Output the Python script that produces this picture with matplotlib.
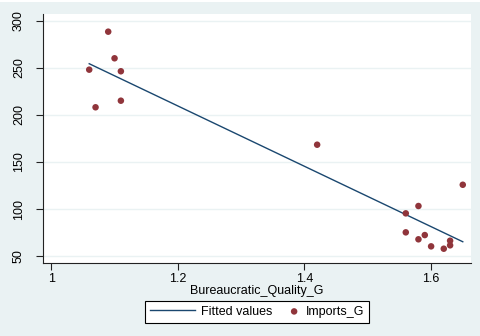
import numpy as np
import matplotlib
matplotlib.use("Agg")
import matplotlib.pyplot as plt
from matplotlib.patches import Rectangle
from matplotlib.legend_handler import HandlerLine2D

plt.rcParams['font.family'] = ['Liberation Sans', 'DejaVu Sans']

quality = [1.06, 1.09, 1.10, 1.11, 1.07, 1.11, 1.42, 1.65, 1.58, 1.56,
           1.56, 1.58, 1.59, 1.60, 1.62, 1.63, 1.63]
imports = [248.2, 288.6, 260.3, 246.5, 208.2, 215.2, 168.4, 125.8, 103.2, 95.4,
           75.2, 67.8, 72.3, 60.3, 57.8, 66.3, 61.4]

x_ticks = [1, 1.2, 1.4, 1.6]
x_tick_labels = ["1", "1.2", "1.4", "1.6"]
y_ticks = [50, 100, 150, 200, 250, 300]
y_tick_labels = ["50", "100", "150", "200", "250", "300"]

BG = "#EAF2F3"
NAVY = "#1A476F"
MAROON = "#90353B"


class WideLineHandler(HandlerLine2D):
    """Line key drawn wider than the shared handle length."""
    def __init__(self, factor, **kw):
        super().__init__(**kw)
        self.factor = factor

    def legend_artist(self, legend, orig_handle, fontsize, handlebox):
        handlebox.width = handlebox.width * self.factor
        return super().legend_artist(legend, orig_handle, fontsize, handlebox)


W, H = 481, 336
fig = plt.figure(figsize=(W / 100, H / 100), dpi=100, facecolor=BG)
fig.patches.append(Rectangle((0, 1 - 2 / H), 1, 2 / H, transform=fig.transFigure,
                             facecolor="white", edgecolor="none", zorder=0))

ax = fig.add_axes([43 / W, 1 - 263 / H, (471 - 43) / W, (263 - 14) / H])
ax.set_facecolor("white")

x = np.array(quality)
y = np.array(imports)
slope, intercept = np.polyfit(x, y, 1)
xf = np.array([x.min(), x.max()])
fit_line, = ax.plot(xf, intercept + slope * xf, color=NAVY, lw=1.0,
                    label="Fitted values", zorder=3)
ax.scatter(x, y, s=22, color=MAROON, edgecolors="none", label="Imports_G", zorder=4)

ax.set_xlim(0.987, 1.663)
ax.set_ylim(42.6, 307.4)
ax.set_xticks(x_ticks)
ax.set_xticklabels(x_tick_labels)
ax.set_yticks(y_ticks)
ax.set_yticklabels(y_tick_labels, rotation=90, va="center")

for t in y_ticks:
    ax.axhline(t, color=BG, lw=1.0, zorder=1)

for side in ("top", "right"):
    ax.spines[side].set_visible(False)
for side in ("left", "bottom"):
    ax.spines[side].set_color("#222222")
    ax.spines[side].set_linewidth(0.8)

ax.tick_params(axis="both", length=5, width=0.8, color="#222222",
               labelsize=9, labelcolor="black")
ax.tick_params(axis="x", pad=2)
ax.tick_params(axis="y", pad=8)

ax.set_xlabel("Bureaucratic_Quality_G", fontsize=9, labelpad=0)

leg = fig.legend(loc="center", bbox_to_anchor=(257 / W, 1 - 311.7 / H), ncol=2,
                 fontsize=9, frameon=True, fancybox=False, edgecolor="black",
                 facecolor="white", framealpha=1, handlelength=0.8,
                 columnspacing=1.3, handletextpad=0.55, borderpad=0.4,
                 markerscale=1.0,
                 handler_map={fit_line: WideLineHandler(4.5)})
leg.get_frame().set_linewidth(0.8)

fig.savefig("out.png", dpi=100, facecolor=BG)
